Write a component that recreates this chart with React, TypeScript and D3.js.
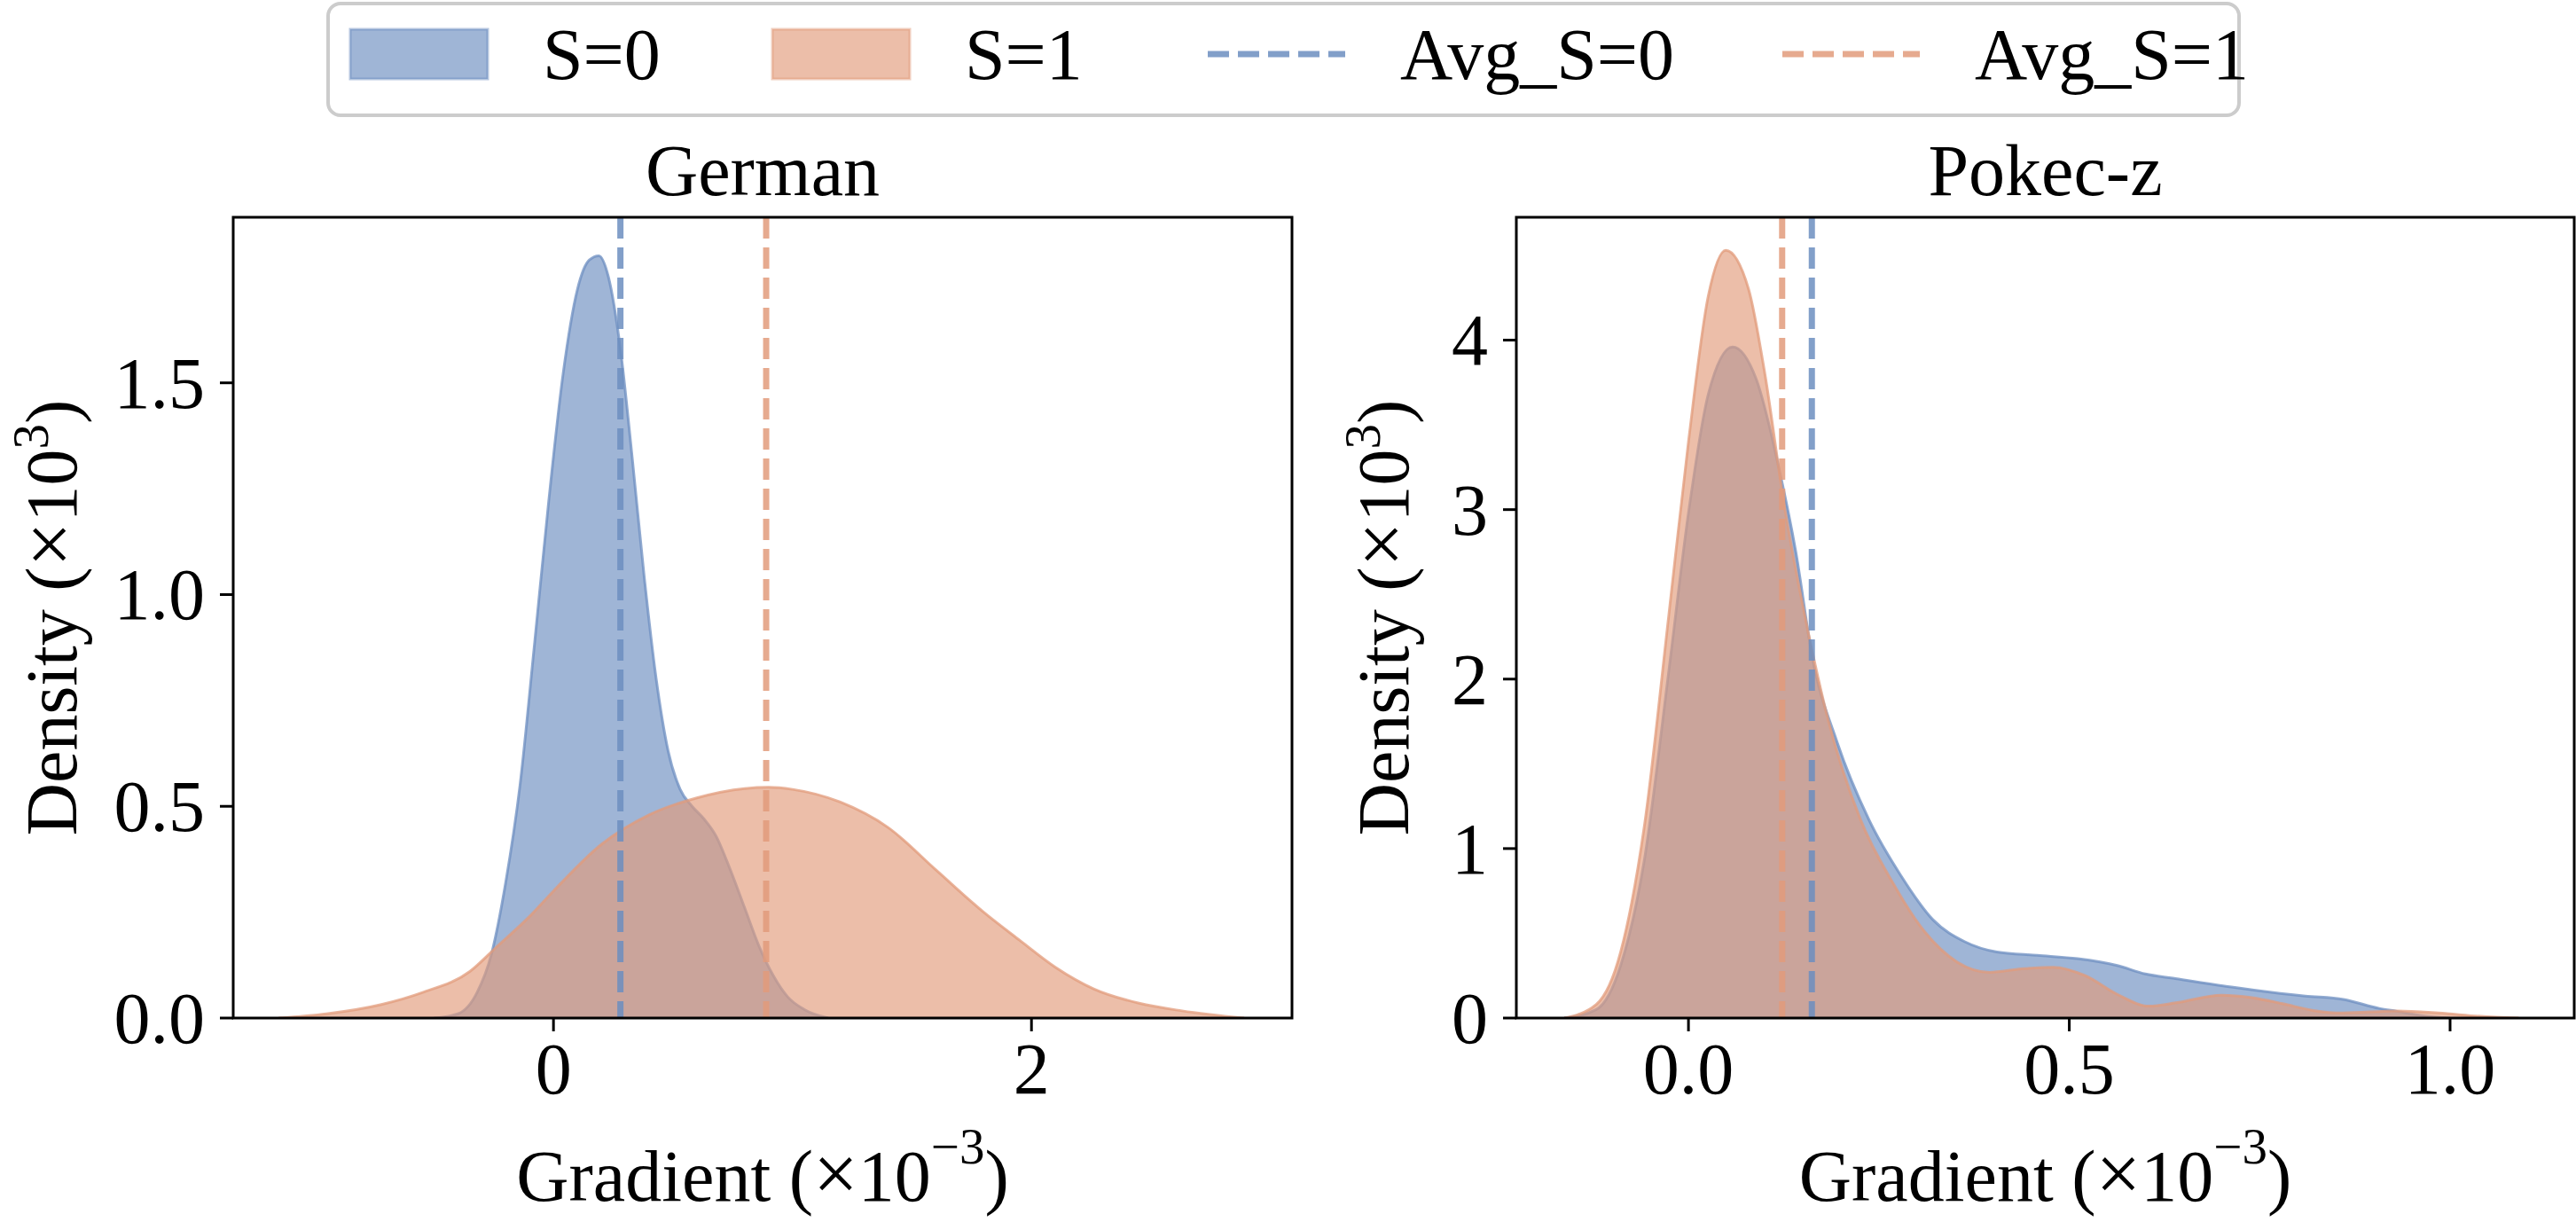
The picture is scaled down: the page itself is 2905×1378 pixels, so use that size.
import React from 'react';
import * as d3 from 'd3';

// German: gradient grid and densities (x10^-3 / x10^3)
const germanGrad0 = [-0.5, -0.4, -0.32, -0.26, -0.2, -0.14, -0.08, -0.02, 0.04, 0.1, 0.15, 0.19, 0.23, 0.28, 0.33, 0.38, 0.43, 0.48, 0.53, 0.58, 0.63, 0.68, 0.74, 0.8, 0.86, 0.92, 0.98, 1.05, 1.15];
const germanDens0 = [0, 0.01, 0.06, 0.15, 0.32, 0.55, 0.88, 1.22, 1.52, 1.72, 1.79, 1.8, 1.75, 1.58, 1.32, 1.04, 0.8, 0.63, 0.54, 0.5, 0.47, 0.43, 0.35, 0.26, 0.17, 0.1, 0.05, 0.02, 0];
const germanGrad1 = [-1.15, -0.95, -0.72, -0.55, -0.35, -0.24, -0.1, 0, 0.2, 0.4, 0.6, 0.8, 0.9, 1.0, 1.2, 1.4, 1.6, 1.8, 1.95, 2.1, 2.26, 2.45, 2.63, 2.89];
const germanDens1 = [0, 0.01, 0.032, 0.06, 0.11, 0.167, 0.24, 0.3, 0.41, 0.48, 0.52, 0.542, 0.545, 0.54, 0.51, 0.45, 0.35, 0.25, 0.184, 0.12, 0.069, 0.035, 0.017, 0];
const germanAvg = [0.28, 0.89];

// Pokec-z
const pokecGrad0 = [-0.163, -0.121, -0.089, -0.058, -0.026, 0, 0.026, 0.058, 0.089, 0.12, 0.141, 0.163, 0.195, 0.237, 0.279, 0.321, 0.363, 0.405, 0.458, 0.511, 0.563, 0.6, 0.636, 0.713, 0.81, 0.86, 0.907, 0.93, 0.97, 1.0];
const pokecDens0 = [0, 0.05, 0.31, 0.93, 2.04, 2.98, 3.68, 3.96, 3.77, 3.22, 2.75, 2.12, 1.63, 1.17, 0.84, 0.58, 0.45, 0.39, 0.37, 0.35, 0.31, 0.26, 0.235, 0.183, 0.13, 0.11, 0.057, 0.04, 0.01, 0];
const pokecGrad1 = [-0.163, -0.121, -0.089, -0.058, -0.026, 0, 0.026, 0.049, 0.079, 0.1, 0.126, 0.153, 0.184, 0.226, 0.268, 0.31, 0.353, 0.395, 0.437, 0.479, 0.521, 0.563, 0.605, 0.64, 0.7, 0.74, 0.78, 0.82, 0.86, 0.93, 0.985, 1.04, 1.09];
const pokecDens1 = [0, 0.08, 0.39, 1.13, 2.37, 3.4, 4.26, 4.53, 4.3, 3.81, 3.02, 2.37, 1.75, 1.17, 0.8, 0.51, 0.33, 0.27, 0.29, 0.3, 0.25, 0.14, 0.07, 0.09, 0.135, 0.12, 0.085, 0.045, 0.03, 0.042, 0.03, 0.01, 0];
const pokecAvg = [0.162, 0.123];

const germanXTicks = [0, 2];
const germanYTicks = [0, 0.5, 1.0, 1.5];
const pokecXTicks = [0, 0.5, 1.0];
const pokecYTicks = [0, 1, 2, 3, 4];

const legendLabels = ['S=0', 'S=1', 'Avg_S=0', 'Avg_S=1'];

const BLUE = '#6c8ec0';
const ORANGE = '#e29b7b';
const FONT = '"Liberation Serif", "Times New Roman", serif';
const FS = 82;

const zip = (xs: number[], ys: number[]) => xs.map((x, i) => [x, ys[i]] as [number, number]);

const panels = [
  {
    id: 'german', title: 'German', left: 263, right: 1457,
    xDomain: [-1.34, 3.09], yDomain: [0, 1.891],
    xTicks: germanXTicks, yTicks: germanYTicks,
    xFmt: d3.format('d'), yFmt: d3.format('.1f'),
    s0: zip(germanGrad0, germanDens0), s1: zip(germanGrad1, germanDens1),
    avg: germanAvg, ylabelX: 86,
  },
  {
    id: 'pokec', title: 'Pokec-z', left: 1710, right: 2903,
    xDomain: [-0.226, 1.163], yDomain: [0, 4.725],
    xTicks: pokecXTicks, yTicks: pokecYTicks,
    xFmt: d3.format('.1f'), yFmt: d3.format('d'),
    s0: zip(pokecGrad0, pokecDens0), s1: zip(pokecGrad1, pokecDens1),
    avg: pokecAvg, ylabelX: 1588,
  },
];

const TOP = 245;
const BOTTOM = 1148;

function Panel({ p }: { p: typeof panels[number] }) {
  const x = d3.scaleLinear().domain(p.xDomain).range([p.left, p.right]);
  const y = d3.scaleLinear().domain(p.yDomain).range([BOTTOM, TOP]);
  const area = d3.area<[number, number]>()
    .x(d => x(d[0])).y0(y(0)).y1(d => y(d[1]))
    .curve(d3.curveMonotoneX);
  const line = d3.line<[number, number]>()
    .x(d => x(d[0])).y(d => y(d[1]))
    .curve(d3.curveMonotoneX);
  const cx = (p.left + p.right) / 2;
  const cy = (TOP + BOTTOM) / 2;
  return (
    <g>
      <defs>
        <clipPath id={`clip-${p.id}`}>
          <rect x={p.left} y={TOP} width={p.right - p.left} height={BOTTOM - TOP} />
        </clipPath>
      </defs>
      <g clipPath={`url(#clip-${p.id})`}>
        <path d={area(p.s0) || ''} fill={BLUE} fillOpacity={0.65} />
        <path d={line(p.s0) || ''} fill="none" stroke={BLUE} strokeOpacity={0.75} strokeWidth={3} />
        <path d={area(p.s1) || ''} fill={ORANGE} fillOpacity={0.65} />
        <path d={line(p.s1) || ''} fill="none" stroke={ORANGE} strokeOpacity={0.75} strokeWidth={3} />
        {p.avg.map((v, i) => (
          <line key={i} x1={x(v)} x2={x(v)} y1={TOP} y2={BOTTOM}
            stroke={i === 0 ? BLUE : ORANGE} strokeOpacity={0.85} strokeWidth={7}
            strokeDasharray="24,10" />
        ))}
      </g>
      <rect x={p.left} y={TOP} width={p.right - p.left} height={BOTTOM - TOP}
        fill="none" stroke="#000" strokeWidth={3} />
      {p.xTicks.map(t => (
        <g key={t}>
          <line x1={x(t)} x2={x(t)} y1={BOTTOM} y2={BOTTOM + 15} stroke="#000" strokeWidth={3} />
          <text x={x(t)} y={1233} textAnchor="middle" fontSize={FS}>{p.xFmt(t)}</text>
        </g>
      ))}
      {p.yTicks.map(t => (
        <g key={t}>
          <line x1={p.left - 15} x2={p.left} y1={y(t)} y2={y(t)} stroke="#000" strokeWidth={3} />
          <text x={p.left - 32} y={y(t)} dy="0.34em" textAnchor="end" fontSize={FS}>{p.yFmt(t)}</text>
        </g>
      ))}
      <text x={cx} y={220} textAnchor="middle" fontSize={FS}>{p.title}</text>
      <text x={cx} y={1354} textAnchor="middle" fontSize={FS}>
        Gradient (<tspan fontSize={90}>×</tspan>10<tspan dy={-42} fontSize={57}>−3</tspan><tspan dy={42}>)</tspan>
      </text>
      <text transform={`translate(${p.ylabelX},${cy}) rotate(-90)`} textAnchor="middle" fontSize={FS}>
        Density (<tspan fontSize={90}>×</tspan>10<tspan dy={-32} fontSize={57}>3</tspan><tspan dy={32}>)</tspan>
      </text>
    </g>
  );
}

function Legend() {
  const itemX = [395, 871, 1362, 2010];
  const colors = [BLUE, ORANGE, BLUE, ORANGE];
  return (
    <g>
      <rect x={370} y={4} width={2155} height={126} rx={14} fill="#fff" stroke="#cccccc" strokeWidth={4} />
      {legendLabels.map((lab, i) => (
        <g key={lab}>
          {i < 2 ? (
            <rect x={itemX[i]} y={33} width={155} height={56} fill={colors[i]} fillOpacity={0.65}
              stroke={colors[i]} strokeOpacity={0.5} strokeWidth={3} />
          ) : (
            <line x1={itemX[i]} x2={itemX[i] + 155} y1={61} y2={61} stroke={colors[i]}
              strokeOpacity={0.85} strokeWidth={7} strokeDasharray="24,10" />
          )}
          <text x={itemX[i] + 155 + 62} y={89} fontSize={FS}>{lab}</text>
        </g>
      ))}
    </g>
  );
}

export default function App() {
  return (
    <svg width={2905} height={1378} style={{ position: 'absolute', left: 0, top: 0, background: '#fff' }}
      fontFamily={FONT}>
      {panels.map(p => <Panel key={p.id} p={p} />)}
      <Legend />
    </svg>
  );
}
